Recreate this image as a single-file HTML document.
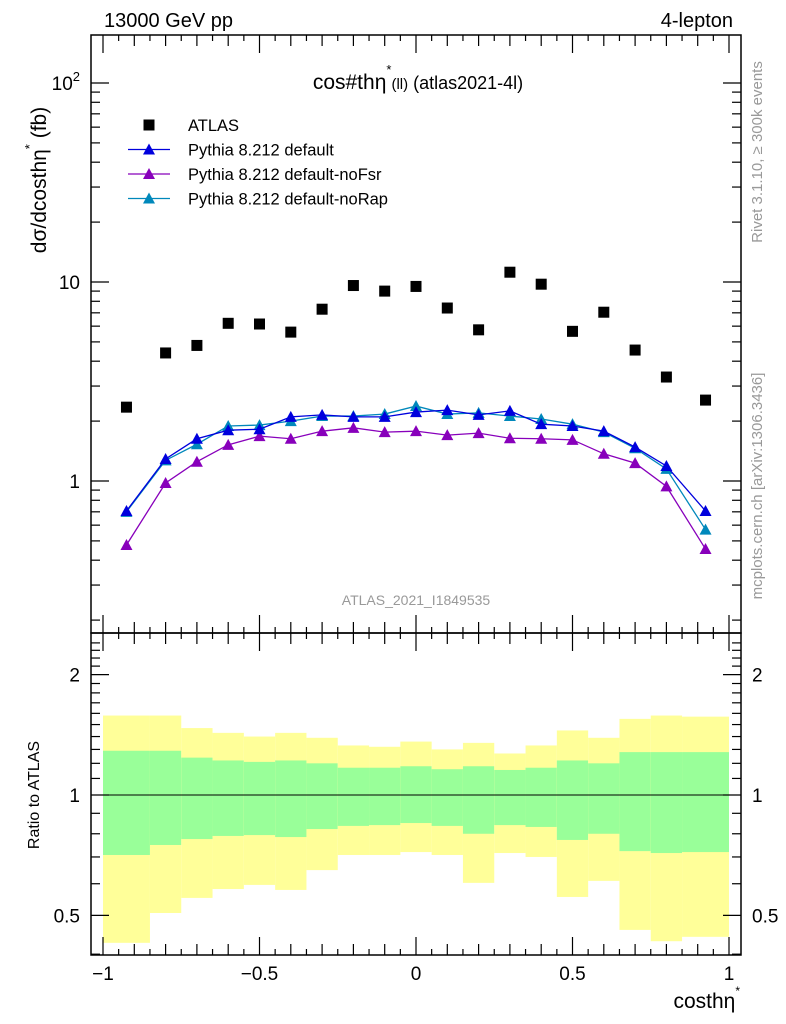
<!DOCTYPE html>
<html><head><meta charset="utf-8"><style>
body{margin:0;background:#fff;}
svg{display:block;font-family:"Liberation Sans",sans-serif;}
</style></head><body>
<svg id="c" width="786" height="1024" xmlns="http://www.w3.org/2000/svg">
<text x="104" y="27" font-size="20">13000 GeV pp</text>
<text x="733" y="27" font-size="20" text-anchor="end">4-lepton</text>
<text x="418" y="89" font-size="21" text-anchor="middle">cos#thη<tspan dy="-15" font-size="13">*</tspan><tspan dy="15" font-size="15">(ll)</tspan><tspan font-size="18"> (atlas2021-4l)</tspan></text>
<text transform="translate(46,180) rotate(-90)" font-size="21" text-anchor="middle">dσ/dcosthη<tspan dy="-12" font-size="13">*</tspan><tspan dy="12"> (fb)</tspan></text>
<text transform="translate(39,795) rotate(-90)" font-size="16" text-anchor="middle">Ratio to ATLAS</text>
<text x="740" y="1008" font-size="21" text-anchor="end">costhη<tspan dy="-13" font-size="12">*</tspan></text>
<text transform="translate(762,152) rotate(-90)" font-size="15" fill="#999" text-anchor="middle">Rivet 3.1.10, ≥ 300k events</text>
<text transform="translate(762,486) rotate(-90)" font-size="15" fill="#999" text-anchor="middle">mcplots.cern.ch [arXiv:1306.3436]</text>
<text x="416" y="605" font-size="14" fill="#999" text-anchor="middle">ATLAS_2021_I1849535</text>
<g id="g"></g>
</svg>
<script>
const edges=[-1,-0.85,-0.75,-0.65,-0.55,-0.45,-0.35,-0.25,-0.15,-0.05,0.05,0.15,0.25,0.35,0.45,0.55,0.65,0.75,0.85,1];
const atlas=[2.35,4.4,4.8,6.2,6.15,5.6,7.3,9.6,9.0,9.5,7.4,5.75,11.2,9.75,5.65,7.05,4.55,3.33,2.55];
const pyDefault=[0.707,1.29,1.63,1.8,1.82,2.1,2.15,2.1,2.1,2.22,2.27,2.15,2.25,1.93,1.89,1.78,1.48,1.19,0.707];
const pyNoFsr=[0.477,0.977,1.25,1.52,1.68,1.63,1.78,1.85,1.76,1.78,1.70,1.74,1.64,1.63,1.61,1.37,1.23,0.94,0.455];
const pyNoRap=[0.70,1.27,1.53,1.89,1.91,2.0,2.12,2.12,2.17,2.38,2.17,2.2,2.12,2.05,1.93,1.76,1.46,1.15,0.57];
const yelHi=[1.58,1.58,1.47,1.43,1.40,1.43,1.39,1.33,1.32,1.36,1.30,1.35,1.27,1.33,1.45,1.39,1.55,1.58,1.57];
const yelLo=[0.427,0.507,0.553,0.582,0.596,0.579,0.649,0.708,0.708,0.720,0.708,0.603,0.716,0.70,0.556,0.61,0.46,0.431,0.442];
const grnHi=[1.29,1.29,1.24,1.22,1.21,1.22,1.20,1.17,1.17,1.18,1.16,1.18,1.155,1.17,1.22,1.20,1.28,1.28,1.28];
const grnLo=[0.708,0.75,0.776,0.79,0.794,0.785,0.822,0.837,0.841,0.851,0.837,0.80,0.841,0.832,0.772,0.80,0.724,0.716,0.72];
const xTicks=[-1,-0.5,0,0.5,1];
const xTickLabels=["−1","−0.5","0","0.5","1"];
const ratioTicks=[0.5,1,2];

const L=91,R=741,T=35,M=633,B=955;
const X=v=>416+v*313;
const Y=v=>481-199*Math.log10(v);
const YR=v=>795-400*Math.log10(v);
const g=document.getElementById('g');
const NS="http://www.w3.org/2000/svg";
function mk(t,a){const e=document.createElementNS(NS,t);for(const k in a)e.setAttribute(k,a[k]);g.appendChild(e);return e;}
const cen=i=>(edges[i]+edges[i+1])/2;

for(let i=0;i<atlas.length;i++){
  const x0=X(edges[i]),x1=X(edges[i+1]);
  let r=mk('rect',{x:x0,y:YR(yelHi[i]),width:x1-x0,height:YR(yelLo[i])-YR(yelHi[i]),fill:'#ffff99'});
  
  
  r=mk('rect',{x:x0,y:YR(grnHi[i]),width:x1-x0,height:YR(grnLo[i])-YR(grnHi[i]),fill:'#99ff99'});
  
  
}
let ln=mk('line',{x1:X(-1),x2:X(1),y1:YR(1),y2:YR(1),stroke:'#000','stroke-width':1});



for(const [a,b,n] of [[T,M,'main-frame'],[M,B,'ratio-frame']]){
  const f=mk('rect',{x:L,y:a,width:R-L,height:b-a,fill:'none',stroke:'#000','stroke-width':1.5});
  
  
}
for(let k=-20;k<=20;k++){
  const v=k*0.05,x=X(v);
  const len=(k%10===0)?18:(k%2===0?11:6);
  for(const y of [T,M,B]){
    if(y!==T) mk('line',{x1:x,x2:x,y1:y,y2:y-len,stroke:'#000','stroke-width':1.2});
    if(y!==B) mk('line',{x1:x,x2:x,y1:y,y2:y+len,stroke:'#000','stroke-width':1.2});
  }
}
xTicks.forEach((v,i)=>{const t=mk('text',{x:X(v),y:980,'font-size':19,'text-anchor':'middle'});t.textContent=xTickLabels[i];

});
for(let d=-1;d<=2;d++){for(let m=1;m<10;m++){
  const v=m*Math.pow(10,d),y=Y(v); if(y<T||y>M)continue;
  const len=m===1?18:9;
  mk('line',{x1:L,x2:L+len,y1:y,y2:y,stroke:'#000','stroke-width':1.2});
  mk('line',{x1:R,x2:R-len,y1:y,y2:y,stroke:'#000','stroke-width':1.2});
}}
[[1,"1"],[10,"10"]].forEach(([v,s])=>{const t=mk('text',{x:80,y:Y(v)+7,'font-size':19,'text-anchor':'end'});t.textContent=s;

});
{const t=mk('text',{x:80,y:Y(100)+7,'font-size':19,'text-anchor':'end'});t.innerHTML='10<tspan dy="-9" font-size="13">2</tspan>';

}
for(let v=0.4;v<=2.45;v+=0.1){
  const y=YR(v); if(y<M||y>B)continue;
  const major=Math.abs(v-0.5)<1e-6||Math.abs(v-1)<1e-6||Math.abs(v-2)<1e-6;
  const len=major?18:9;
  mk('line',{x1:L,x2:L+len,y1:y,y2:y,stroke:'#000','stroke-width':1.2});
  mk('line',{x1:R,x2:R-len,y1:y,y2:y,stroke:'#000','stroke-width':1.2});
}
ratioTicks.forEach(v=>{for(const [x,a] of [[80,'end'],[752,'start']]){const t=mk('text',{x:x,y:YR(v)+7,'font-size':19,'text-anchor':a});t.textContent=String(v);

}});

function tri(x,y,c){return mk('polygon',{points:`${x},${y-6} ${x-6},${y+5} ${x+6},${y+5}`,fill:c});}
const series=[[pyNoFsr,'#8800bb','pythia-nofsr'],[pyNoRap,'#0088bb','pythia-norap'],[pyDefault,'#0000dd','pythia-default']];
for(const [arr,c,n] of series){
  const p=mk('polyline',{points:arr.map((v,i)=>X(cen(i))+','+Y(v)).join(' '),fill:'none',stroke:c,'stroke-width':1.3});
  
  
  arr.forEach((v,i)=>{const t=tri(X(cen(i)),Y(v),c);
  
  });
}
atlas.forEach((v,i)=>{const r=mk('rect',{x:X(cen(i))-5.5,y:Y(v)-5.5,width:11,height:11,fill:'#000'});

});

const leg=[['ATLAS','#000',null],['Pythia 8.212 default','#0000dd',1],['Pythia 8.212 default-noFsr','#8800bb',1],['Pythia 8.212 default-noRap','#0088bb',1]];
leg.forEach(([s,c,l],i)=>{
  const y=125+i*24.5;
  if(l){mk('line',{x1:128,x2:170,y1:y,y2:y,stroke:c,'stroke-width':1.3});const t=tri(149,y,c);
  
  }
  else{const r=mk('rect',{x:143.5,y:y-5.5,width:11,height:11,fill:'#000'});
  
  }
  const t=mk('text',{x:188,y:y+6,'font-size':16.5});t.textContent=s;
  
  
});
</script>
</body></html>
